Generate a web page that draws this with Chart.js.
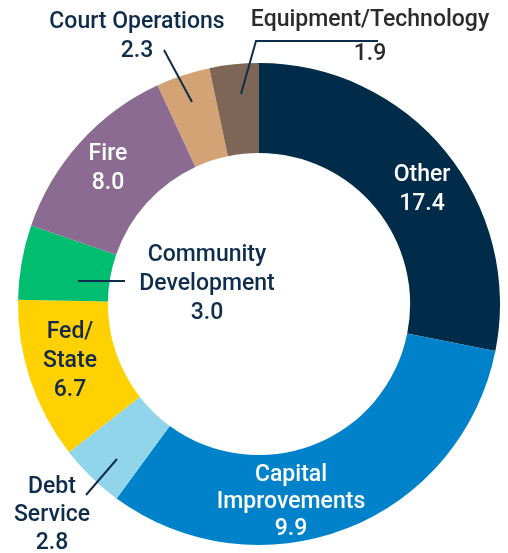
<!DOCTYPE html>
<html>
<head>
<meta charset="utf-8">
<script src="https://cdn.jsdelivr.net/npm/chart.js@4.4.0/dist/chart.umd.min.js"></script>
<style>
  html, body { margin: 0; padding: 0; background: #fff; }
  #wrap { width: 508px; height: 553px; }
</style>
</head>
<body>
<div id="wrap"><canvas id="donut" width="508" height="553"></canvas></div>
<script>
// data, clockwise from 12 o'clock
var categories = ['Other', 'Capital Improvements', 'Debt Service', 'Fed/State',
    'Community Development', 'Fire', 'Court Operations', 'Equipment/Technology'];
var amounts = [17.4, 9.9, 2.8, 6.7, 3.0, 8.0, 2.3, 1.9];
// slice sizes as drawn in the picture (percent of the ring)
var shares = [28.1, 31.9, 4.4, 10.8, 5.0, 12.8, 3.6, 3.3];
var colors = ['#002b49', '#0082ca', '#91d5ea', '#ffd100', '#00bd70', '#8c6b93', '#d3a275', '#7e6656'];

var navy = '#0e2d4b';

// label placement relative to ring center (px), text lines come from categories/amounts
var labelSpots = [
    { lines: ['Other'], x: 163, y: -129, color: '#fff' },
    { lines: ['Capital', 'Improvements'], x: 32, y: 171, gap: 27, color: '#fff' },
    { lines: ['Debt', 'Service'], x: -207, y: 183, gap: 28, color: navy,
      leader: [[-173, 191], [-142, 155]] },
    { lines: ['Fed/', 'State'], x: -189, y: 28, color: '#13294b' },
    { lines: ['Community', 'Development'], x: -52, y: -49, color: navy,
      leader: [[-181, -23], [-134, -23]] },
    { lines: ['Fire'], x: -151, y: -150, color: '#fff' },
    { lines: ['Court Operations'], x: -122, y: -282, gap: 29, color: navy,
      leader: [[-95, -254], [-67, -202]] },
    { lines: ['Equipment/Technology'], x: 111, y: -284, gap: 34, color: '#2b2b2b',
      leader: [[-18, -210], [-3, -263], [119, -263]] }
];

var labelPlugin = {
    id: 'sliceLabels',
    afterDraw: function (chart) {
        var ctx = chart.ctx;
        var arc = chart.getDatasetMeta(0).data[0];
        var cx = arc.x, cy = arc.y;
        ctx.save();
        ctx.font = '500 23px Roboto';
        ctx.textAlign = 'center';
        ctx.textBaseline = 'middle';
        labelSpots.forEach(function (spot, i) {
            var gap = spot.gap || 29;
            var rows = spot.lines.concat([amounts[i].toFixed(1)]);
            ctx.fillStyle = spot.color;
            rows.forEach(function (txt, r) {
                ctx.fillText(txt, cx + spot.x, cy + spot.y + r * gap);
            });
            if (spot.leader) {
                ctx.strokeStyle = navy;
                ctx.lineWidth = 2;
                ctx.beginPath();
                spot.leader.forEach(function (p, k) {
                    if (k == 0) ctx.moveTo(cx + p[0], cy + p[1]);
                    else ctx.lineTo(cx + p[0], cy + p[1]);
                });
                ctx.stroke();
            }
        });
        ctx.restore();
    }
};

var donut = new Chart(document.getElementById('donut'), {
    type: 'doughnut',
    data: {
        labels: categories,
        datasets: [{
            data: shares,
            backgroundColor: colors,
            borderWidth: 0
        }]
    },
    options: {
        responsive: false,
        animation: false,
        cutout: '62.7%',
        layout: { padding: { left: 18, right: 8, top: 63, bottom: 8 } },
        plugins: {
            legend: { display: false },
            tooltip: { enabled: false }
        }
    },
    plugins: [labelPlugin]
});
</script>
</body>
</html>
